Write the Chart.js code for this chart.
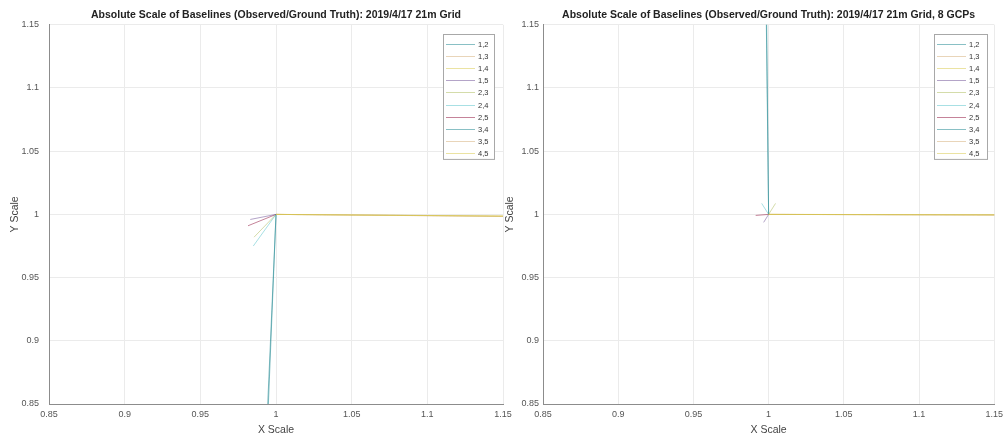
<!DOCTYPE html>
<html>
<head>
<meta charset="utf-8">
<script src="https://cdn.jsdelivr.net/npm/chart.js@4.4.1/dist/chart.umd.min.js"></script>
<style>
  html, body { margin: 0; padding: 0; background: #fff; }
  body { width: 1008px; height: 438px; position: relative; overflow: hidden; }
  canvas { position: absolute; top: 0; }
  #gridChart { left: 0; }
  #gcpChart { left: 500px; }
</style>
</head>
<body>
<canvas id="gridChart" width="520" height="438"></canvas>
<canvas id="gcpChart" width="508" height="438"></canvas>
<script>
// Baseline point pairs
const baselinePairs = ['1,2', '1,3', '1,4', '1,5', '2,3', '2,4', '2,5', '3,4', '3,5', '4,5'];
// Every baseline vector starts at perfect scale
const origin = [1, 1];
// Scale end points, 21 m grid
const gridScaleX = [0.9927, 1.20, 1.20, 0.983, 0.9855, 0.985, 0.9815, 0.9933, 1.20, 1.20];
const gridScaleY = [0.80, 0.9980, 0.9982, 0.996, 0.982, 0.975, 0.991, 0.80, 0.9979, 0.9983];
// Scale end points, 21 m grid with 8 GCPs
const gcpScaleX = [0.9983, 1.20, 1.20, 0.9967, 1.0046, 0.9954, 0.9914, 0.9980, 1.20, 1.20];
const gcpScaleY = [1.20, 0.9994, 0.9996, 0.9937, 1.0087, 1.0087, 0.9992, 1.20, 0.9993, 0.9995];
// Axis ticks
const tickValues = [0.85, 0.9, 0.95, 1, 1.05, 1.1, 1.15];

const lineColors = [
  'rgba(40,140,150,0.55)', 'rgba(200,150,80,0.4)', 'rgba(215,200,70,0.5)', 'rgba(105,73,145,0.5)',
  'rgba(169,185,85,0.5)', 'rgba(81,193,201,0.5)', 'rgba(150,30,70,0.55)',
  'rgba(40,140,150,0.55)', 'rgba(200,150,80,0.4)', 'rgba(215,200,70,0.5)'
];
// Yellow lines sit above the tan ones where they overlap
const drawOrder = [5, 4, 1, 5, 5, 5, 5, 5, 3, 0];

const FONT = 'Liberation Sans';

// Boxed legend placed inside the top-right corner of the plot area
const insetLegend = {
  id: 'insetLegend',
  afterDraw(chart, args, opts) {
    const { ctx, chartArea } = chart;
    const sets = chart.data.datasets;
    const w = opts.width, rowH = opts.rowHeight;
    const h = 10 + (sets.length - 1) * rowH + 6;
    const x0 = Math.round(chartArea.right - opts.right - w);
    const y0 = Math.round(chartArea.top + opts.top);
    ctx.save();
    ctx.fillStyle = '#fff';
    ctx.fillRect(x0, y0, w, h);
    ctx.strokeStyle = '#a8a8a8';
    ctx.lineWidth = 1;
    ctx.strokeRect(x0 + 0.5, y0 + 0.5, w, h);
    ctx.font = '7.5px "' + FONT + '"';
    ctx.textBaseline = 'middle';
    ctx.textAlign = 'left';
    sets.forEach((ds, i) => {
      const y = Math.round(y0 + 10 + i * rowH) + 0.5;
      ctx.strokeStyle = ds.borderColor;
      ctx.beginPath();
      ctx.moveTo(x0 + 3, y);
      ctx.lineTo(x0 + 32, y);
      ctx.stroke();
      ctx.fillStyle = '#333';
      ctx.fillText(ds.label, x0 + 35, y);
    });
    ctx.restore();
  }
};

function makeChart(id, xs, ys, titleText, lay) {
  const datasets = baselinePairs.map((p, i) => ({
    label: p,
    data: [{ x: origin[0], y: origin[1] }, { x: xs[i], y: ys[i] }],
    borderColor: lineColors[i],
    backgroundColor: lineColors[i],
    borderWidth: 1,
    pointRadius: 0,
    showLine: true,
    fill: false,
    order: drawOrder[i]
  }));
  const setTicks = s => { s.ticks = tickValues.map(v => ({ value: v })); };
  const tickFont = { family: FONT, size: 9 };
  const axisTitleFont = { family: FONT, size: 10.5 };
  return new Chart(document.getElementById(id), {
    type: 'scatter',
    data: { datasets },
    options: {
      responsive: false,
      animation: false,
      devicePixelRatio: 1,
      events: [],
      layout: { padding: { left: 0, right: lay.right, top: 0, bottom: 0 } },
      plugins: {
        legend: { display: false },
        tooltip: { enabled: false },
        title: {
          display: true, text: titleText, fullSize: false, color: '#222',
          font: { family: FONT, size: 10.5, weight: 'bold' },
          padding: { top: 9, bottom: 3.2 }
        },
        insetLegend: lay.legend
      },
      scales: {
        x: {
          type: 'linear', min: 0.85, max: 1.15,
          afterBuildTicks: setTicks,
          afterFit: s => { s.height = 34; },
          ticks: { color: '#555', font: tickFont, padding: 5, maxRotation: 0, callback: v => String(v) },
          grid: { color: '#ebebeb', drawTicks: false },
          border: { color: '#8c8c8c', width: 1 },
          title: { display: true, text: 'X Scale', color: '#444', font: axisTitleFont, padding: { top: 0, bottom: 2 } }
        },
        y: {
          type: 'linear', min: 0.85, max: 1.15,
          afterBuildTicks: setTicks,
          afterFit: s => { s.width = lay.yWidth; },
          ticks: { color: '#555', font: tickFont, padding: lay.yPad, callback: v => String(v) },
          grid: { color: '#ebebeb', drawTicks: false },
          border: { color: '#8c8c8c', width: 1 },
          title: { display: true, text: 'Y Scale', color: '#444', font: axisTitleFont, padding: { top: lay.yTitlePad, bottom: lay.yTitlePad } }
        }
      }
    },
    plugins: [insetLegend]
  });
}

makeChart('gridChart', gridScaleX, gridScaleY,
  'Absolute Scale of Baselines (Observed/Ground Truth): 2019/4/17 21m Grid',
  { right: 17, yWidth: 49, yPad: 10, yTitlePad: 9, legend: { width: 51, rowHeight: 12.1, right: 9, top: 9 } });

makeChart('gcpChart', gcpScaleX, gcpScaleY,
  'Absolute Scale of Baselines (Observed/Ground Truth): 2019/4/17 21m Grid, 8 GCPs',
  { right: 11, yWidth: 43, yPad: 4, yTitlePad: 3.5, legend: { width: 53, rowHeight: 12.1, right: 7, top: 9 } });
</script>
</body>
</html>
